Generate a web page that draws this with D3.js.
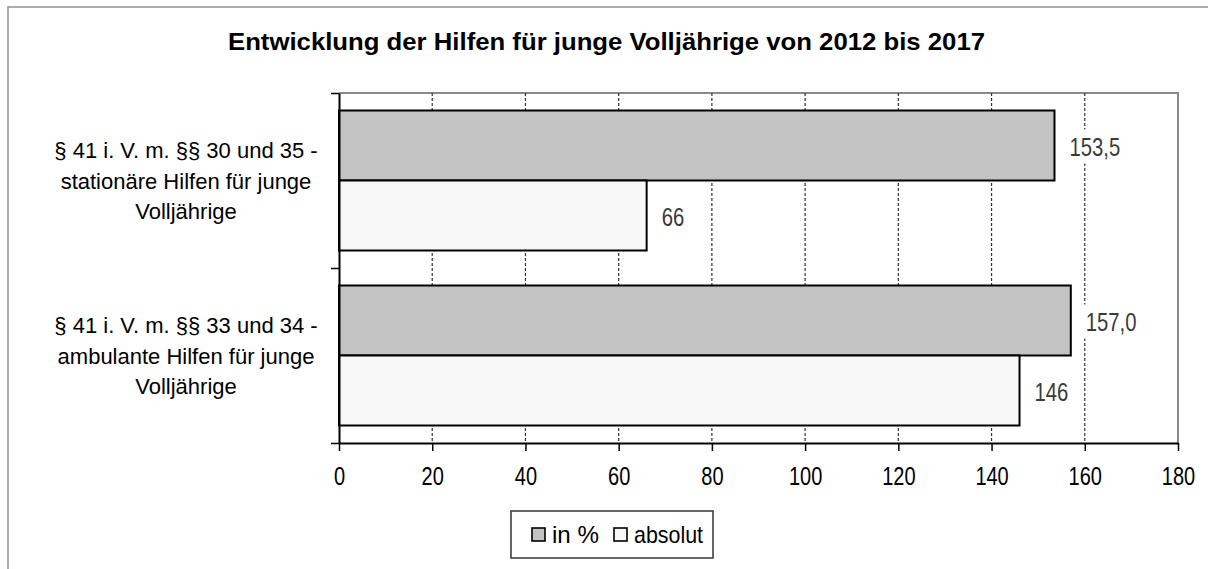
<!DOCTYPE html>
<html>
<head>
<meta charset="utf-8">
<script src="https://cdn.jsdelivr.net/npm/d3@7"></script>
<style>
  body { margin: 0; background: #fff; }
  svg text { font-family: "Liberation Sans", Arial, sans-serif; }
</style>
</head>
<body>
<svg id="chart" width="1208" height="569"></svg>
<script>
// data
const categories = [
    ["§ 41 i. V. m. §§ 30 und 35 -", "stationäre Hilfen für junge", "Volljährige"],
    ["§ 41 i. V. m. §§ 33 und 34 -", "ambulante Hilfen für junge", "Volljährige"]
];
const seriesNames = ["in %", "absolut"];
const percentValues = [153.5, 157.0];
const absoluteValues = [66, 146];
const percentLabels = ["153,5", "157,0"];
const absoluteLabels = ["66", "146"];
const xTicks = [0, 20, 40, 60, 80, 100, 120, 140, 160, 180];

const colors = ["#c3c3c3", "#f8f8f8"];

const svg = d3.select("#chart");

// outer frame
svg.append("rect")
    .attr("x", 8).attr("y", 7)
    .attr("width", 1300).attr("height", 700)
    .attr("fill", "none")
    .attr("stroke", "#999")
    .attr("stroke-width", 1.6);

// title
svg.append("text")
    .attr("x", 228).attr("y", 50)
    .attr("font-size", 24)
    .attr("font-weight", "bold")
    .attr("textLength", 757)
    .attr("lengthAdjust", "spacingAndGlyphs")
    .text("Entwicklung der Hilfen für junge Volljährige von 2012 bis 2017");

const plotL = 339, plotR = 1178, plotT = 93, plotB = 443;

const x = d3.scaleLinear().domain([0, 180]).range([plotL, plotR]);
const y = d3.scaleBand().domain(d3.range(categories.length)).range([plotT, plotB]);
const ySub = d3.scaleBand().domain([0, 1]).range([0, y.bandwidth()]).paddingOuter(0.25);

// plot frame (top and right gray)
svg.append("path")
    .attr("d", `M${plotL},${plotT}H${plotR}V${plotB}`)
    .attr("fill", "none")
    .attr("stroke", "#8a8a8a")
    .attr("stroke-width", 2);

// gridlines
svg.append("g").selectAll("line")
    .data(xTicks.filter(d => d > 0 && d < 180))
    .enter().append("line")
    .attr("x1", d => x(d)).attr("x2", d => x(d))
    .attr("y1", plotT).attr("y2", plotB)
    .attr("stroke", "#333")
    .attr("stroke-width", 1.2)
    .attr("stroke-dasharray", "3,2");

// bars
const rows = categories.map((c, i) => [
    { cat: i, s: 0, v: percentValues[i], label: percentLabels[i] },
    { cat: i, s: 1, v: absoluteValues[i], label: absoluteLabels[i] }
]).flat();

svg.append("g").selectAll("rect")
    .data(rows)
    .enter().append("rect")
    .attr("x", x(0))
    .attr("y", d => y(d.cat) + ySub(d.s))
    .attr("width", d => x(d.v) - x(0))
    .attr("height", ySub.bandwidth())
    .attr("fill", d => colors[d.s])
    .attr("stroke", "#000")
    .attr("stroke-width", 2);

// value labels with white background (narrow, light)
const lab = svg.append("g").selectAll("g")
    .data(rows)
    .enter().append("g")
    .attr("transform", d => `translate(${x(d.v) + 15},${y(d.cat) + ySub(d.s) + ySub.bandwidth() / 2 + 1}) scale(0.78,1)`);

lab.append("text")
    .attr("dy", "0.36em")
    .attr("font-size", 26)
    .attr("fill", "#3a3a3a")
    .text(d => d.label)
    .each(function () {
        const b = this.getBBox();
        d3.select(this.parentNode).insert("rect", "text")
            .attr("x", b.x - 6).attr("y", -17)
            .attr("width", b.width + 12).attr("height", 34)
            .attr("fill", "#fff");
    });

// x axis
const xAxis = svg.append("g")
    .attr("transform", `translate(0,${plotB})`)
    .call(d3.axisBottom(x).tickValues(xTicks).tickSize(8).tickSizeOuter(0).tickFormat(d3.format("d")));
xAxis.select(".domain").attr("stroke", "#000").attr("stroke-width", 2);
xAxis.selectAll(".tick line").attr("stroke", "#000").attr("stroke-width", 1.5);
xAxis.selectAll(".tick text")
    .attr("font-size", 25)
    .attr("fill", "#000")
    .attr("y", 42)
    .attr("dy", 0)
    .attr("transform", "scale(0.8,1)");

// y axis
const yAxis = svg.append("g")
    .attr("transform", `translate(${plotL},0)`)
    .call(d3.axisLeft(d3.scaleLinear().domain([0, 2]).range([plotB, plotT]))
        .ticks(2).tickSize(8).tickSizeOuter(0).tickFormat(""));
yAxis.select(".domain").attr("stroke", "#000").attr("stroke-width", 2);
yAxis.selectAll(".tick line").attr("stroke", "#000").attr("stroke-width", 1.5);

// category labels
const catG = svg.append("g").selectAll("text")
    .data(categories)
    .enter().append("text")
    .attr("text-anchor", "middle")
    .attr("font-size", 22)
    .attr("fill", "#000");
catG.selectAll("tspan")
    .data((d, i) => d.map((t, j) => ({ t, j, i })))
    .enter().append("tspan")
    .attr("x", 186)
    .attr("y", d => y(d.i) + y.bandwidth() / 2 + (d.j - 1) * 30.5)
    .attr("dy", "0.38em")
    .text(d => d.t);

// legend
const legend = svg.append("g");
legend.append("rect")
    .attr("x", 511).attr("y", 511)
    .attr("width", 202).attr("height", 47)
    .attr("fill", "#fff")
    .attr("stroke", "#404040")
    .attr("stroke-width", 1.6);
const legX = [532, 614];
const legW = [47, 69];
seriesNames.forEach((name, i) => {
    legend.append("rect")
        .attr("x", legX[i]).attr("y", 528)
        .attr("width", 13).attr("height", 13)
        .attr("fill", colors[i])
        .attr("stroke", "#000")
        .attr("stroke-width", 1.6);
    legend.append("text")
        .attr("x", legX[i] + 20).attr("y", 543)
        .attr("font-size", 24)
        .attr("textLength", legW[i])
        .attr("lengthAdjust", "spacingAndGlyphs")
        .text(name);
});
</script>
</body>
</html>
